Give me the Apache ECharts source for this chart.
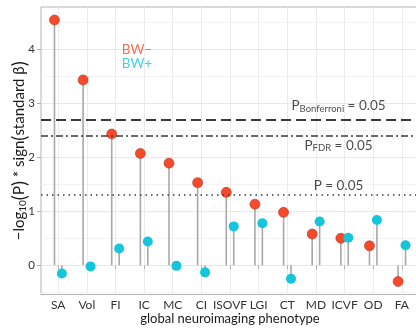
<!DOCTYPE html>
<html><head><meta charset="utf-8">
<script src="https://cdn.jsdelivr.net/npm/echarts@6/dist/echarts.min.js"></script>
<style>html,body{margin:0;padding:0;background:#fff}#c{width:416px;height:328px}</style>
</head><body><div id="c"></div>
<script>
const categories = ['SA','Vol','FI','IC','MC','CI','ISOVF','LGI','CT','MD','ICVF','OD','FA'];
const bwMinus = [4.54, 3.43, 2.43, 2.07, 1.89, 1.53, 1.35, 1.13, 0.98, 0.58, 0.50, 0.36, -0.30];
const bwPlus  = [-0.15, -0.02, 0.31, 0.44, -0.01, -0.13, 0.72, 0.78, -0.25, 0.81, 0.51, 0.84, 0.37];
const yTickValues = [0, 1, 2, 3, 4];
const yMinorValues = [-0.5, 0.5, 1.5, 2.5, 3.5, 4.5];
const thresholdNames = ['Bonferroni', 'FDR', 'P'];
const thresholdValues = [2.70, 2.40, 1.30];

const RED = '#F8492B', CYAN = '#14C5DB';
const FONT = 'Lato';
const DODGE = 0.13;
const catPos = categories.map((c, i) => i + 1);

const stemData = [];
categories.forEach((c, i) => {
  stemData.push([catPos[i] - DODGE, bwMinus[i]]);
  stemData.push([catPos[i] + DODGE, bwPlus[i]]);
});

const chart = echarts.init(document.getElementById('c'), null, {renderer: 'canvas'});
chart.setOption({
  animation: false,
  backgroundColor: '#fff',
  textStyle: {fontFamily: FONT},
  grid: {left: 41, right: -3, top: 7, bottom: 33.5, show: true, borderColor: '#B3B3B3', borderWidth: 1,
    containLabel: false, outerBoundsMode: 'none'},
  xAxis: [{
    type: 'value', min: 0.4, max: 13.6,
    axisLine: {show: false},
    axisTick: {show: true, customValues: catPos, length: 4, lineStyle: {color: '#B3B3B3'}},
    axisLabel: {customValues: catPos, formatter: v => categories[Math.round(v) - 1] || '', color: '#333', fontSize: 12, fontFamily: FONT, margin: 5},
    splitLine: {show: true, lineStyle: {color: '#EBEBEB', width: 1}},
    name: 'global neuroimaging phenotype', nameLocation: 'middle', nameGap: 18, nameMoveOverlap: false,
    nameTextStyle: {color: '#1A1A1A', fontSize: 13, fontFamily: FONT}
  }],
  yAxis: [{
    type: 'value', min: -0.54, max: 4.78,
    axisLine: {show: false},
    axisTick: {show: true, customValues: yTickValues, length: 4, lineStyle: {color: '#B3B3B3'}},
    axisLabel: {customValues: yTickValues, color: '#333', fontSize: 11.5, fontFamily: FONT, margin: 6},
    splitLine: {show: true, lineStyle: {color: '#E8E8E8', width: 1}},
    name: '−log{sub|10}{par|(}P{par|)} * sign{par|(}standard β{par|)}', nameLocation: 'middle', nameGap: 12, nameMoveOverlap: false,
    nameTextStyle: {color: '#1A1A1A', fontSize: 15, fontFamily: FONT,
      rich: {sub: {fontSize: 10, fontFamily: FONT, color: '#1A1A1A', padding: [6, 0, 0, 0]},
             par: {fontSize: 19, fontFamily: FONT, color: '#1A1A1A'}}}
  }, {
    type: 'value', min: -0.54, max: 4.78, position: 'left',
    axisLine: {show: false}, axisLabel: {show: false},
    axisTick: {show: false, customValues: yMinorValues},
    splitLine: {show: true, lineStyle: {color: '#F3F3F3', width: 1}}
  }],
  series: [{
    type: 'custom', name: 'stems', z: 2, silent: true,
    data: stemData,
    renderItem: (params, api) => {
      const p0 = api.coord([api.value(0), 0]);
      const p1 = api.coord([api.value(0), api.value(1)]);
      return {type: 'line', shape: {x1: p0[0], y1: p0[1], x2: p1[0], y2: p1[1]},
        style: {stroke: '#A8A8A8', lineWidth: 1.6}};
    },
    markLine: {
      silent: true, symbol: 'none', label: {show: false},
      data: [
        {yAxis: thresholdValues[0], lineStyle: {type: [10, 5], color: '#3A3A3A', width: 1.8}},
        {yAxis: thresholdValues[1], lineStyle: {type: [7, 3, 2, 3], color: '#3A3A3A', width: 1.5}},
        {yAxis: thresholdValues[2], lineStyle: {type: [1.5, 4], color: '#3A3A3A', width: 1.5}}
      ]
    }
  }, {
    type: 'scatter', name: 'BW−', z: 4, symbolSize: 10,
    itemStyle: {color: RED, borderColor: '#A53A28', borderWidth: 0.6, opacity: 1},
    data: categories.map((c, i) => [catPos[i] - DODGE, bwMinus[i]])
  }, {
    type: 'scatter', name: 'BW+', z: 4, symbolSize: 10,
    itemStyle: {color: CYAN, opacity: 1},
    data: categories.map((c, i) => [catPos[i] + DODGE, bwPlus[i]])
  }, {
    type: 'scatter', name: 'annotations', z: 5, symbolSize: 0, silent: true,
    label: {show: true, position: 'inside', fontFamily: FONT, fontSize: 13.5, color: '#1A1A1A',
      rich: {sub: {fontSize: 9.5, fontFamily: FONT, color: '#1A1A1A', padding: [6, 0, 0, 0]}}},
    data: [
      {value: [10.79, 2.95], label: {formatter: 'P{sub|' + thresholdNames[0] + '} = 0.05'}},
      {value: [10.79, 2.22], label: {formatter: 'P{sub|' + thresholdNames[1] + '} = 0.05'}},
      {value: [10.79, 1.47], label: {formatter: thresholdNames[2] + ' = 0.05'}},
      {value: [3.22, 3.99], label: {formatter: 'BW−', color: RED, align: 'left'}},
      {value: [3.22, 3.73], label: {formatter: 'BW+', color: CYAN, align: 'left'}}
    ]
  }]
});
</script></body></html>
